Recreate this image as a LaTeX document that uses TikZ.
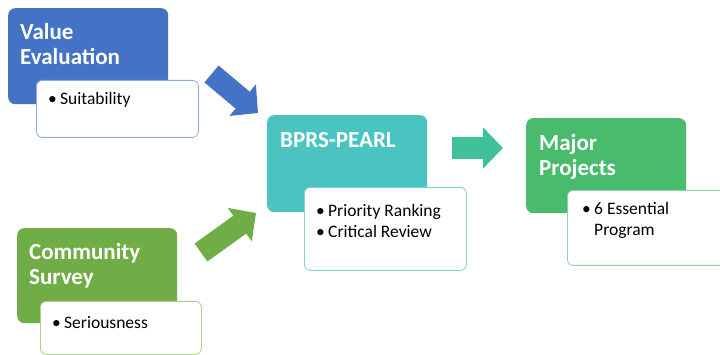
\documentclass[tikz,border=0pt]{standalone}
\usepackage{fontspec}
\setmainfont{Carlito}
\usetikzlibrary{arrows.meta}
\definecolor{cblue}{HTML}{4472C4}
\definecolor{cgreen}{HTML}{70AD47}
\definecolor{cteal}{HTML}{4BC4C1}
\definecolor{carrteal}{HTML}{40BF9B}
\definecolor{cmajor}{HTML}{48BC6C}
\definecolor{bblue}{HTML}{8FAADC}
\definecolor{bgreen}{HTML}{A9D18E}
\definecolor{bteal}{HTML}{7FD3D1}
\definecolor{bmajor}{HTML}{8ED4A0}
\newcommand\bitem{\makebox[12pt][l]{\textbullet}}
\newcommand\bindent{\makebox[12pt][l]{}}
\begin{document}
\begin{tikzpicture}[x=1pt,y=-1pt,
  headbox/.style={rounded corners=7pt, inner sep=0pt, anchor=north west, minimum width=160pt},
  subbox/.style={draw, line width=0.8pt, fill=white, rounded corners=6pt, inner sep=0pt, anchor=north west},
  ttl/.style={text=white, font=\fontsize{23}{25}\selectfont\bfseries, align=left, anchor=base west, inner sep=0pt},
  itm/.style={text=black, font=\fontsize{17.5}{21}\selectfont, align=left, anchor=base west, inner sep=0pt},
  blk/.style={line width=22pt, -{Triangle[width=40pt,length=20pt]}}]
\useasboundingbox (0,0) rectangle (720,355);
\fill[white] (0,0) rectangle (720,355);

% Value Evaluation
\node[headbox, fill=cblue, minimum height=96pt] (ve) at (8,8) {};
\node[ttl] (vet) at (20,65) {Value\\Evaluation};
\node[subbox, draw=bblue, minimum width=162pt, minimum height=57pt] (suit) at (36,80) {};
\node[itm] (suitt) at (48,105) {\bitem Suitability};

% Community Survey
\node[headbox, fill=cgreen, minimum height=95pt] (cs) at (17,228) {};
\node[ttl] (cst) at (29,285) {Community\\Survey};
\node[subbox, draw=bgreen, minimum width=161pt, minimum height=53pt] (ser) at (40,301) {};
\node[itm] (sert) at (52,328) {\bitem Seriousness};

% BPRS-PEARL
\node[headbox, fill=cteal, minimum height=97pt] (bp) at (267,115) {};
\node[ttl] (bpt) at (280,148) {BPRS-PEARL};
\node[subbox, draw=bteal, minimum width=162pt, minimum height=83pt] (prio) at (304,187) {};
\node[itm] (priot) at (316,238) {\bitem Priority Ranking\\\bitem Critical Review};

% Major Projects
\node[headbox, fill=cmajor, minimum height=95pt] (mp) at (526,118) {};
\node[ttl] (mpt) at (539,176) {Major\\Projects};
\node[subbox, draw=bmajor, minimum width=170pt, minimum height=75pt] (ess) at (567,190) {};
\node[itm] (esst) at (582,236) {\bitem 6 Essential\\\bindent Program};

% block arrows
\coordinate (a1s) at (211.5,74);
\coordinate (a1e) at (258,113);
\coordinate (a2s) at (201,252.5);
\coordinate (a2e) at (256,213);
\coordinate (a3s) at (452,148);
\coordinate (a3e) at (503,148);
\draw[blk, cblue] (a1s) -- (a1e);
\draw[blk, cgreen] (a2s) -- (a2e);
\draw[blk, carrteal] (a3s) -- (a3e);
\end{tikzpicture}
\end{document}
